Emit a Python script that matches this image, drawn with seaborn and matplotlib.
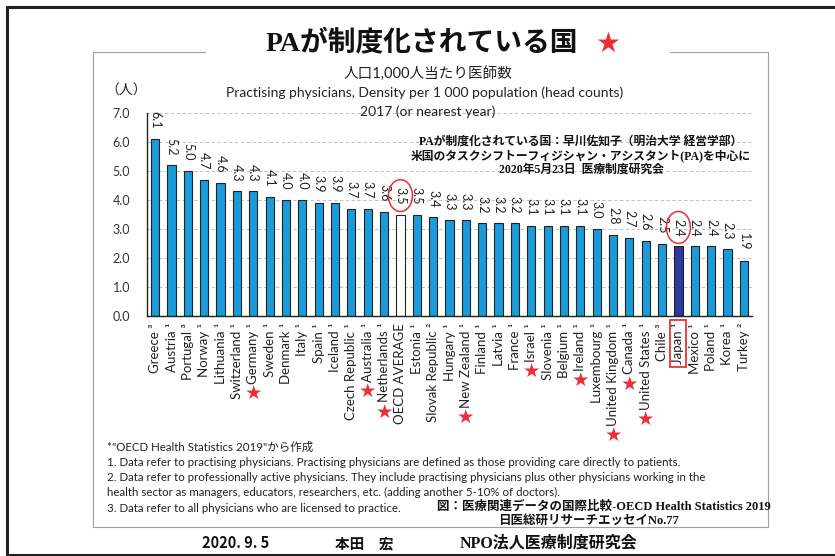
import numpy as np
import pandas as pd
import matplotlib.pyplot as plt
from matplotlib.lines import Line2D
from matplotlib.patches import Rectangle
import seaborn as sns

# OECD Health Statistics 2019: practising physicians per 1,000 population
countries = ['Greece', 'Austria', 'Portugal', 'Norway', 'Lithuania', 'Switzerland',
             'Germany', 'Sweden', 'Denmark', 'Italy', 'Spain', 'Iceland',
             'Czech Republic', 'Australia', 'Netherlands', 'OECD AVERAGE', 'Estonia',
             'Slovak Republic', 'Hungary', 'New Zealand', 'Finland', 'Latvia', 'France',
             'Israel', 'Slovenia', 'Belgium', 'Ireland', 'Luxembourg', 'United Kingdom',
             'Canada', 'United States', 'Chile', 'Japan', 'Mexico', 'Poland', 'Korea',
             'Turkey']
note_ids = [3, 1, 3, 1, 1, 1, 1, 1, 1, 1, 1, 1, 1, 1, 1, 0, 1, 2, 1, 1, 1, 1, 1,
            1, 1, 1, 1, 1, 1, 1, 1, 3, 1, 1, 1, 1, 2]
values = [6.1, 5.2, 5.0, 4.7, 4.6, 4.3, 4.3, 4.1, 4.0, 4.0, 3.9, 3.9, 3.7, 3.7,
          3.6, 3.5, 3.5, 3.4, 3.3, 3.3, 3.2, 3.2, 3.2, 3.1, 3.1, 3.1, 3.1, 3.0,
          2.8, 2.7, 2.6, 2.5, 2.4, 2.4, 2.4, 2.3, 1.9]
# countries where PA (physician assistant) is an established profession
pa_countries = ['Germany', 'Australia', 'Netherlands', 'New Zealand', 'Israel',
                'Ireland', 'United Kingdom', 'Canada', 'United States']
y_ticks = [0, 1, 2, 3, 4, 5, 6, 7]

sup = {0: '', 1: ' ¹', 2: ' ²', 3: ' ³'}
labels = [c + sup[n] for c, n in zip(countries, note_ids)]
df = pd.DataFrame({'label': labels, 'country': countries, 'value': values})

palette = {}
for lab, c in zip(labels, countries):
    if c == 'OECD AVERAGE':
        palette[lab] = '#ffffff'
    elif c == 'Japan':
        palette[lab] = '#2b3a9c'
    else:
        palette[lab] = '#1b9bdb'

sns.set_style('white')
plt.rcParams['font.family'] = ['Lato', 'Noto Sans CJK JP', 'DejaVu Sans']
SERIF = ['Liberation Serif', 'Noto Sans CJK JP', 'DejaVu Sans']
RED = '#e8303a'

W, H = 835, 556
fig = plt.figure(figsize=(W / 100, H / 100), dpi=100)


def px(x, y):
    return x / W, 1 - y / H


ax = fig.add_axes([147 / W, 1 - 316 / H, (752 - 147) / W, (316 - 113) / H])
sns.barplot(data=df, x='label', y='value', hue='label', palette=palette,
            legend=False, width=0.5, saturation=1, edgecolor='#222222',
            linewidth=0.8, ax=ax)

ax.set_ylim(0, 7)
ax.set_xlim(-0.5, len(labels) - 0.5)
ax.set_yticks(y_ticks)
ax.set_yticklabels([f'{t:.1f}' for t in y_ticks], fontsize=9, color='#333333')
ax.set_xticks(range(len(labels)))
ax.set_xticklabels(labels, rotation=90, fontsize=9.5, color='#222222')
ax.set_xticks(np.arange(-0.5, len(labels), 1), minor=True)
ax.tick_params(axis='x', which='major', length=0, pad=5)
ax.tick_params(axis='x', which='minor', direction='in', length=3, width=0.8)
ax.tick_params(axis='y', direction='inout', length=4, width=0.8, pad=10)
ax.set_xlabel('')
ax.set_ylabel('')
for t in y_ticks[1:]:
    ax.axhline(t, color='#b5b5b5', lw=0.6, ls=(0, (4, 3)), zorder=0)
for s in ['top', 'right']:
    ax.spines[s].set_visible(False)
for s in ['left', 'bottom']:
    ax.spines[s].set_color('#222222')
    ax.spines[s].set_linewidth(1.0)

# value labels above bars
for i, (c, v) in enumerate(zip(countries, values)):
    kw = {}
    if c in ('OECD AVERAGE', 'Japan'):
        kw['bbox'] = dict(boxstyle='ellipse,pad=0.2', fc='none', ec=RED, lw=1.1)
    ax.text(i, v + 0.35, f'{v:.1f}', rotation=-90, ha='center', va='bottom',
            fontsize=9, color='#222222', **kw)

# titles
fig.text(*px(422, 44), 'PAが制度化されている国', ha='center', va='center',
         fontsize=20, fontweight='bold', family=SERIF, color='#111111')
fig.text(*px(608, 44), '★', ha='center', va='center', fontsize=20,
         color=RED, family=['DejaVu Sans'])
fig.text(*px(428, 73), '人口1,000人当たり医師数', ha='center', va='center',
         fontsize=10.5, color='#222222')
fig.text(*px(425, 93), 'Practising physicians, Density per 1 000 population (head counts)',
         ha='center', va='center', fontsize=10, color='#222222')
fig.text(*px(428, 112), '2017 (or nearest year)', ha='center', va='center',
         fontsize=10, color='#222222')
fig.text(*px(126, 90), '（人）', ha='center', va='center', fontsize=10,
         color='#222222')

# source block inside plot
src = ['PAが制度化されている国：早川佐知子（明治大学 経営学部）',
       '米国のタスクシフトーフィジシャン・アシスタント(PA)を中心に',
       '2020年5月23日  医療制度研究会']
for j, s in enumerate(src):
    fig.text(*px(581, 142 + j * 14), s, ha='center', va='center', fontsize=8.5,
             fontweight='bold', family=SERIF, color='#111111')

# footnotes
notes = ['*"OECD Health Statistics 2019"から作成',
         '1. Data refer to practising physicians. Practising physicians are defined as those providing care directly to patients.',
         '2. Data refer to professionally active physicians. They include practising physicians plus other physicians working in the',
         'health sector as managers, educators, researchers, etc. (adding another 5-10% of doctors).',
         '3. Data refer to all physicians who are licensed to practice.']
for j, s in enumerate(notes):
    fig.text(*px(107, 447 + j * 15.3), s, ha='left', va='center', fontsize=8.3,
             color='#222222')
fig.text(*px(437, 507), '図：医療関連データの国際比較-OECD Health Statistics 2019',
         ha='left', va='center', fontsize=9, fontweight='bold', family=SERIF,
         color='#111111')
fig.text(*px(588, 521), '日医総研リサーチエッセイNo.77', ha='center', va='center',
         fontsize=9, fontweight='bold', family=SERIF, color='#111111')

# footer
fig.text(*px(236, 543), '2020. 9. 5', ha='center', va='center', fontsize=10.5,
         fontweight='bold', family=['Noto Sans CJK JP'], color='#111111')
fig.text(*px(364, 543), '本田　宏', ha='center', va='center', fontsize=10.5,
         fontweight='bold', family=['Noto Sans CJK JP'], color='#111111')
fig.text(*px(549, 543), 'NPO法人医療制度研究会', ha='center', va='center',
         fontsize=11.5, fontweight='bold', family=SERIF, color='#111111')

# frames
gray = '#a0a0a0'
box = [((93, 52), (205, 52)), ((670, 52), (768, 52)), ((93, 52), (93, 527)),
       ((768, 52), (768, 527)), ((93, 527), (768, 527))]
for (x0, y0), (x1, y1) in box:
    a, b = px(x0, y0), px(x1, y1)
    fig.add_artist(Line2D([a[0], b[0]], [a[1], b[1]], color=gray, lw=0.8))
outer = [((7, 7), (835, 7)), ((7, 7), (7, 555)), ((7, 555), (835, 555))]
for (x0, y0), (x1, y1) in outer:
    a, b = px(x0, y0), px(x1, y1)
    fig.add_artist(Line2D([a[0], b[0]], [a[1], b[1]], color='#222222', lw=2.2))

# stars under PA countries, red box around Japan
fig.canvas.draw()
inv = fig.transFigure.inverted()
for lab_artist, c in zip(ax.get_xticklabels(), countries):
    if c in pa_countries:
        ax.annotate('★', xy=(0.5, 0), xycoords=lab_artist, xytext=(0, -7),
                    textcoords='offset points', ha='center', va='center',
                    fontsize=14, color=RED, family=['DejaVu Sans'],
                    annotation_clip=False)
    if c == 'Japan':
        bb = lab_artist.get_window_extent().transformed(inv)
        padx, pady = 2 / W, 3 / H
        fig.add_artist(Rectangle((bb.x0 - padx, bb.y0 - pady), bb.width + 2 * padx,
                                 bb.height + 2 * pady, fill=False, ec=RED, lw=1.3,
                                 transform=fig.transFigure))

fig.savefig('out.png', dpi=100, facecolor='white')
